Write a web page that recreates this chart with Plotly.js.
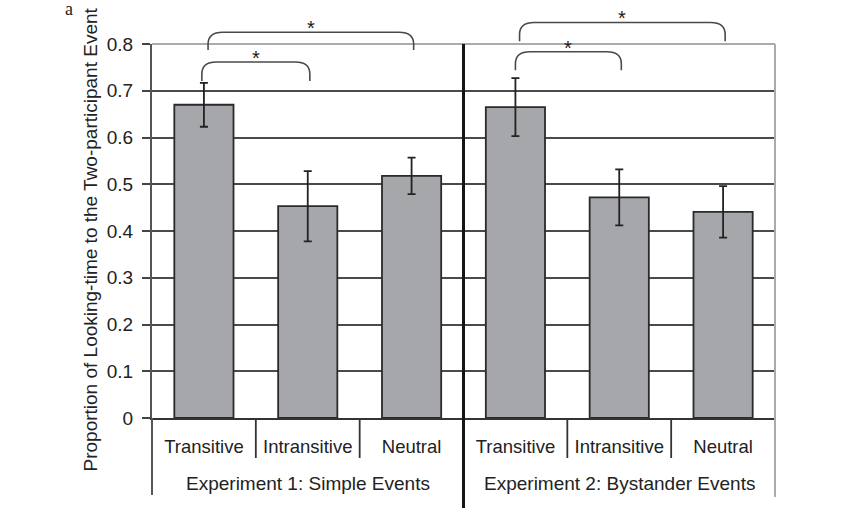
<!DOCTYPE html>
<html>
<head>
<meta charset="utf-8">
<script src="https://cdn.plot.ly/plotly-3.0.1.min.js"></script>
<style>
  html, body { margin: 0; padding: 0; background: #ffffff; }
  #chart { width: 841px; height: 508px; }
</style>
</head>
<body>
<div id="chart"></div>
<script>
// Conditions within each experiment
const categories = ['Transitive', 'Intransitive', 'Neutral'];
// Experiments (outer grouping of the x axis)
const experiments = ['Experiment 1: Simple Events', 'Experiment 2: Bystander Events'];

// Mean proportion of looking-time to the two-participant event
const meanExp1 = [0.670, 0.453, 0.518];
const meanExp2 = [0.665, 0.472, 0.441];
// Error bar half-lengths
const errExp1 = [0.047, 0.075, 0.039];
const errExp2 = [0.062, 0.060, 0.055];

// Y axis ticks
const yTickVals = [0, 0.1, 0.2, 0.3, 0.4, 0.5, 0.6, 0.7, 0.8];
const yTickText = ['0', '0.1', '0.2', '0.3', '0.4', '0.5', '0.6', '0.7', '0.8'];

// Significant pairwise comparisons: [experiment index, condition a, condition b]
const comparisons = [
  [0, 0, 1],
  [0, 0, 2],
  [1, 0, 1],
  [1, 0, 2]
];

const yTitle = 'Proportion of Looking-time to the Two-participant Event';
const panelLetter = 'a';

// ---- build the flat bar list (one slot per condition per experiment) ----
const nCat = categories.length;
const means = [meanExp1, meanExp2];
const errs = [errExp1, errExp2];
const xPos = [], yVal = [], eVal = [], tickText = [];
experiments.forEach((_, g) => {
  categories.forEach((c, i) => {
    xPos.push(g * nCat + i);
    yVal.push(means[g][i]);
    eVal.push(errs[g][i]);
    tickText.push(c);
  });
});

const yRange = [0, 0.8];
const toPaperY = v => (v - yRange[0]) / (yRange[1] - yRange[0]);
const plotH = 508 - 44 - 90;           // plot area height in px
const pxToPaper = px => px / plotH;

const FONT = 'Liberation Sans, Arial, sans-serif';
const TEXT = '#222222';

const bars = {
  type: 'bar',
  x: xPos,
  y: yVal,
  width: 0.57,
  marker: { color: '#a6a7ab', line: { color: '#2a2a2a', width: 1.8 } },
  error_y: { type: 'data', array: eVal, visible: true, color: '#222222', thickness: 1.8, width: 4 },
  hoverinfo: 'x+y'
};

const shapes = [];
const annotations = [];

// left axis line continues down past the labels
shapes.push({ type: 'line', xref: 'paper', yref: 'paper', x0: 0, x1: 0,
  y0: 0, y1: -pxToPaper(77), line: { color: '#555555', width: 2 } });
// right border
shapes.push({ type: 'line', xref: 'paper', yref: 'paper', x0: 1, x1: 1,
  y0: 1, y1: -pxToPaper(79), line: { color: '#ababab', width: 2 }, layer: 'above' });
// top border
shapes.push({ type: 'line', xref: 'paper', yref: 'paper', x0: 0, x1: 1,
  y0: 1, y1: 1, line: { color: '#ababab', width: 2 }, layer: 'above' });

// heavy divider between the two experiments
for (let g = 1; g < experiments.length; g++) {
  const xd = g * nCat - 0.5;
  shapes.push({ type: 'line', xref: 'x', yref: 'paper', x0: xd, x1: xd,
    y0: 1, y1: -pxToPaper(90), line: { color: '#151515', width: 3 }, layer: 'above' });
}
// short separators between conditions inside each experiment
experiments.forEach((_, g) => {
  for (let i = 1; i < nCat; i++) {
    const xs = g * nCat + i - 0.5;
    shapes.push({ type: 'line', xref: 'x', yref: 'paper', x0: xs, x1: xs,
      y0: 0, y1: -pxToPaper(40), line: { color: '#333333', width: 1.8 } });
  }
});

// experiment labels under the condition labels
experiments.forEach((name, g) => {
  annotations.push({ text: name, xref: 'x', yref: 'paper',
    x: g * nCat + (nCat - 1) / 2, y: -pxToPaper(65), xanchor: 'center', yanchor: 'middle',
    showarrow: false, font: { family: FONT, size: 19, color: TEXT } });
});

// significance brackets with rounded shoulders
const bracketLevels = { 1: [0.721, 0.7615], 2: [0.787, 0.825] };
const bracketLevels2 = { 1: [0.744, 0.7835], 2: [0.806, 0.846] };
const rx = 0.14, ry = pxToPaper(12);
comparisons.forEach(([g, a, b]) => {
  const lv = (g === 0 ? bracketLevels : bracketLevels2)[b - a];
  const span = b - a;
  const xL = g * nCat + a + (span === 1 ? (g === 0 ? -0.02 : 0.0) : 0.04);
  const xR = g * nCat + b + 0.02;
  const yB = toPaperY(lv[0]);
  const yT = toPaperY(lv[1]);
  const path = `M ${xL},${yB} L ${xL},${yT - ry} Q ${xL},${yT} ${xL + rx},${yT} ` +
               `L ${xR - rx},${yT} Q ${xR},${yT} ${xR},${yT - ry} L ${xR},${yB}`;
  shapes.push({ type: 'path', xref: 'x', yref: 'paper', path: path,
    line: { color: '#4a4a4a', width: 1.6 }, layer: 'above' });
  annotations.push({ text: '*', xref: 'x', yref: 'paper', x: (xL + xR) / 2,
    y: yT + pxToPaper(10), yshift: -6, xanchor: 'center', yanchor: 'middle',
    showarrow: false, font: { family: FONT, size: 20, color: '#1a1a1a' } });
});

// y axis title
annotations.push({ text: yTitle, xref: 'paper', yref: 'paper',
  x: (90 - 152) / 623, y: (418 - 239.5) / plotH, textangle: -90,
  xanchor: 'center', yanchor: 'middle', showarrow: false,
  font: { family: FONT, size: 19, color: TEXT } });

// panel letter
annotations.push({ text: panelLetter, xref: 'paper', yref: 'paper',
  x: (69 - 152) / 623, y: (418 - 9) / plotH, xanchor: 'center', yanchor: 'middle',
  showarrow: false, font: { family: '"Liberation Serif", "Times New Roman", serif', size: 18, color: '#222222' } });

const layout = {
  width: 841,
  height: 508,
  margin: { l: 152, r: 66, t: 44, b: 90, pad: 0 },
  paper_bgcolor: '#ffffff',
  plot_bgcolor: '#ffffff',
  showlegend: false,
  bargap: 0,
  xaxis: {
    type: 'linear',
    range: [-0.5, experiments.length * nCat - 0.5],
    tickvals: xPos,
    ticktext: tickText,
    ticks: '',
    showgrid: false,
    zeroline: false,
    showline: true,
    linecolor: '#333333',
    linewidth: 2,
    tickfont: { family: FONT, size: 18.5, color: TEXT },
    ticklabelstandoff: 11,
    fixedrange: true
  },
  yaxis: {
    range: yRange,
    tickvals: yTickVals,
    ticktext: yTickText,
    ticks: 'outside',
    ticklen: 8,
    tickwidth: 2,
    tickcolor: '#444444',
    showgrid: true,
    gridcolor: '#4a4a4a',
    gridwidth: 2,
    zeroline: false,
    showline: true,
    linecolor: '#555555',
    linewidth: 2,
    tickfont: { family: FONT, size: 19, color: TEXT },
    ticklabelstandoff: 5,
    fixedrange: true
  },
  shapes: shapes,
  annotations: annotations
};

Plotly.newPlot('chart', [bars], layout, { displayModeBar: false, staticPlot: true });
</script>
</body>
</html>
